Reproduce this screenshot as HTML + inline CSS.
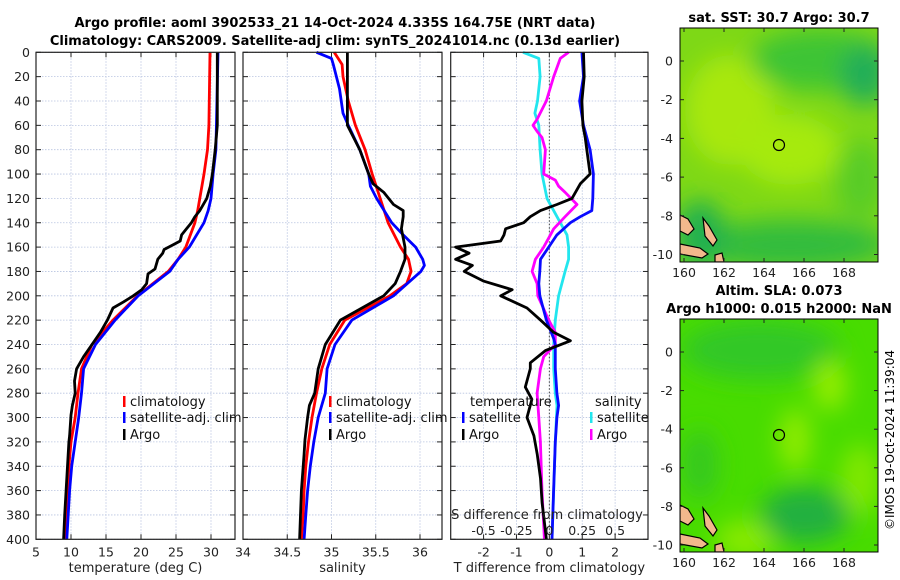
<!DOCTYPE html>
<html><head><meta charset="utf-8">
<style>
html,body{margin:0;padding:0;background:#fff;}
svg{display:block;font-family:"DejaVu Sans","Liberation Sans",sans-serif;}
</style></head>
<body>
<svg id="fig" width="900" height="580" viewBox="0 0 900 580" xmlns="http://www.w3.org/2000/svg">
<defs>
<filter id="blur" x="-50%" y="-50%" width="200%" height="200%"><feGaussianBlur stdDeviation="12"/></filter>
<clipPath id="clipTop"><rect x="680" y="28" width="198" height="234"/></clipPath>
<clipPath id="clipBot"><rect x="680" y="319" width="198" height="233"/></clipPath>
</defs>
<text x="335" y="27" text-anchor="middle" font-size="13" font-weight="bold">Argo profile: aoml 3902533_21 14-Oct-2024 4.335S 164.75E (NRT data)</text>
<text x="335" y="45" text-anchor="middle" font-size="13" font-weight="bold">Climatology: CARS2009. Satellite-adj clim: synTS_20241014.nc (0.13d earlier)</text>
<g id="plots"></g>
<g id="maps">
 <text x="779" y="22" text-anchor="middle" font-size="13" font-weight="bold">sat. SST: 30.7 Argo: 30.7</text>
 <g clip-path="url(#clipTop)">
  <rect x="680" y="28" width="198" height="234" fill="#7ed816"/>
  <g filter="url(#blur)">
   <ellipse cx="730" cy="110" rx="45" ry="55" fill="#a8e80a"/>
   <ellipse cx="790" cy="150" rx="50" ry="35" fill="#a6ea08"/>
   <ellipse cx="820" cy="60" rx="70" ry="30" fill="#3cc434"/>
   <ellipse cx="865" cy="75" rx="25" ry="30" fill="#20ae58"/>
   <ellipse cx="790" cy="245" rx="100" ry="25" fill="#30bc3c"/>
   <ellipse cx="700" cy="235" rx="25" ry="35" fill="#24b050"/>
   <ellipse cx="860" cy="180" rx="25" ry="40" fill="#58cc26"/>
  </g>
  <path d="M680 215 l8 4 l6 10 l-6 6 l-8 -4z M703 218 l6 8 l8 14 l-4 6 l-8 -10z M680 244 l20 4 l8 6 l-6 4 l-22 -4z M715 255 l7 -2 l2 9 l-9 0z" fill="#f2b88c" stroke="#000" stroke-width="1.2"/>
 </g>
 <rect x="680" y="28" width="198" height="234" fill="none" stroke="#000" stroke-width="1"/>
 <circle cx="779" cy="145" r="5.5" fill="none" stroke="#000" stroke-width="1.2"/>
 <text x="779" y="295" text-anchor="middle" font-size="13" font-weight="bold">Altim. SLA: 0.073</text>
 <text x="779" y="313" text-anchor="middle" font-size="13" font-weight="bold">Argo h1000: 0.015 h2000: NaN</text>
 <g clip-path="url(#clipBot)">
  <rect x="680" y="319" width="198" height="233" fill="#48dc00"/>
  <g filter="url(#blur)">
   <ellipse cx="760" cy="350" rx="80" ry="30" fill="#30c828"/>
   <ellipse cx="830" cy="385" rx="16" ry="26" fill="#98ee00"/>
   <ellipse cx="795" cy="440" rx="16" ry="32" fill="#90ec00"/>
   <ellipse cx="860" cy="480" rx="20" ry="36" fill="#80e800"/>
   <ellipse cx="745" cy="540" rx="30" ry="20" fill="#88ea00"/>
   <ellipse cx="805" cy="515" rx="45" ry="28" fill="#20b040"/>
   <ellipse cx="700" cy="465" rx="18" ry="35" fill="#34c820"/>
  </g>
  <path d="M680 505 l8 4 l6 10 l-6 6 l-8 -4z M703 508 l6 8 l8 14 l-4 6 l-8 -10z M680 534 l20 4 l8 6 l-6 4 l-22 -4z M715 545 l7 -2 l2 9 l-9 0z" fill="#f2b88c" stroke="#000" stroke-width="1.2"/>
 </g>
 <rect x="680" y="319" width="198" height="233" fill="none" stroke="#000" stroke-width="1"/>
 <circle cx="779" cy="435" r="5.5" fill="none" stroke="#000" stroke-width="1.2"/>
 <text transform="translate(894,440) rotate(-90)" text-anchor="middle" font-size="12">©IMOS 19-Oct-2024 11:39:04</text>
</g>
<g id="mapaxes"></g>
</svg>
<script>
// ---- data ----
const depthClim = [0,60,80,100,120,130,140,160,170,180,200,220,240,260,280,300,320,340,360,380,400];
const tempClim  = [29.86,29.7,29.5,29.0,28.4,28.1,27.7,26.4,25.3,23.9,19.5,16.0,13.0,11.5,11.0,10.6,10.0,9.7,9.5,9.3,9.2];
const depthSat  = [0,80,100,120,130,140,160,170,180,200,220,240,260,280,300,320,340,360,380,400];
const tempSat   = [31.0,30.7,30.3,30.0,29.6,29.0,26.9,25.3,24.1,19.6,16.3,13.5,11.8,11.5,11.1,10.6,10.1,9.8,9.6,9.4];
const depthArgoT= [0,60,80,100,110,120,130,135,140,145,150,155,158,162,165,170,178,182,190,195,200,205,210,220,230,240,250,260,270,280,290,298,315,320,340,360,380,400];
const tempArgo  = [30.9,30.9,30.6,30.2,29.9,29.4,28.4,27.7,27.2,26.5,25.8,25.6,24.6,23.3,23.1,22.4,22.0,21.0,20.8,20.1,18.9,17.5,16.0,15.2,14.2,13.0,11.8,10.8,10.5,10.6,10.2,10.0,9.8,9.7,9.5,9.3,9.1,8.95];

const depthSClim= [0,10,20,40,60,80,100,120,140,160,170,180,190,200,220,240,260,280,300,320,340,360,380,400];
const salClim   = [35.03,35.12,35.13,35.19,35.27,35.38,35.46,35.55,35.64,35.78,35.87,35.90,35.85,35.66,35.15,34.98,34.89,34.83,34.78,34.74,34.71,34.69,34.68,34.66];
const depthSSat = [0,5,10,30,50,60,80,100,110,120,140,150,160,170,175,180,200,220,240,260,280,300,320,340,360,380,400];
const salSat    = [34.83,35.0,35.02,35.09,35.13,35.19,35.32,35.42,35.44,35.51,35.68,35.81,35.95,36.03,36.05,36.01,35.70,35.23,35.04,34.95,34.93,34.85,34.80,34.76,34.73,34.71,34.69];
const depthSArgo= [0,60,70,80,100,108,115,125,130,135,145,160,170,180,190,200,220,240,260,280,290,300,318,330,360,400];
const salArgo   = [35.18,35.18,35.25,35.32,35.42,35.47,35.59,35.70,35.81,35.81,35.79,35.83,35.83,35.78,35.72,35.59,35.10,34.93,34.85,34.81,34.75,34.73,34.70,34.69,34.66,34.64];

const depthDTS  = [0,20,40,60,80,100,120,130,135,140,150,160,170,180,190,200,220,235,240,260,280,290,300,320,360,400];
const dTsat     = [0.99,1.04,0.92,1.04,1.24,1.34,1.32,1.29,0.94,0.64,0.23,-0.02,-0.27,-0.29,-0.32,-0.29,-0.09,0.13,0.18,0.18,0.23,0.28,0.23,0.18,0.13,0.08];
const depthDTA  = [0,20,40,60,70,80,100,108,120,125,130,135,140,145,150,155,160,165,170,175,180,188,195,200,210,220,230,237,245,255,260,275,285,300,315,330,350,370,400];
const dTargo    = [1.04,1.06,0.99,1.02,1.09,1.14,1.24,0.94,0.69,0.23,-0.27,-0.58,-0.78,-1.33,-1.38,-1.48,-2.85,-2.44,-2.85,-2.34,-2.59,-1.99,-1.13,-1.48,-0.68,-0.27,0.13,0.64,-0.12,-0.58,-0.58,-0.73,-0.53,-0.68,-0.47,-0.37,-0.27,-0.22,-0.09];
const depthDSS  = [0,5,20,40,50,60,80,100,120,140,150,160,170,180,200,220,240,260,280,290,320,360,400];
const dSsat     = [-0.20,-0.08,-0.07,-0.09,-0.11,-0.08,-0.07,-0.056,-0.018,0.083,0.134,0.146,0.146,0.12,0.07,0.045,0.033,0.033,0.045,0.058,0.045,0.033,0.02];
const depthDSA  = [0,5,20,40,55,60,65,70,80,100,105,110,115,125,135,145,150,160,170,180,190,200,220,230,240,250,260,280,300,320,360,400];
const dSargo    = [0.146,0.083,0.033,-0.023,-0.093,-0.124,-0.093,-0.056,-0.03,-0.043,0.045,0.07,0.12,0.21,0.12,0.033,0.008,-0.043,-0.106,-0.131,-0.093,-0.088,-0.005,0.045,0.045,-0.043,-0.068,-0.093,-0.08,-0.068,-0.056,-0.038];

const depthTicks = [0,20,40,60,80,100,120,140,160,180,200,220,240,260,280,300,320,340,360,380,400];
const tTicks = [5,10,15,20,25,30];
const sTicks = [34,34.5,35,35.5,36];
const dTTicks = [-2,-1,0,1,2];
const dSTicks = [-0.5,-0.25,0,0.25,0.5];
const dSTickLabels = ["-0.5","-0.25","0","0.25","0.5"];

// ---- drawing ----
const NS="http://www.w3.org/2000/svg";
const g=document.getElementById('plots');
function mk(tag,attrs,parent){const e=document.createElementNS(NS,tag);for(const k in attrs)e.setAttribute(k,attrs[k]);(parent||g).appendChild(e);return e;}
const Y0=52.3,Y1=539.3;
function yScale(d){return Y0+(d/400)*(Y1-Y0);}
function lin(d0,d1,r0,r1){return v=>r0+(v-d0)/(d1-d0)*(r1-r0);}
const panels=[
 {name:'temperature',x0:36,x1:235,sx:lin(5,30,36,211),ticks:tTicks,labels:tTicks.map(String),xlabel:'temperature (deg C)'},
 {name:'salinity',x0:243,x1:442,sx:lin(34,36,243,420),ticks:sTicks,labels:sTicks.map(String),xlabel:'salinity'},
 {name:'difference',x0:450.7,x1:648,sx:lin(-3,3,450.7,648),ticks:dTTicks,labels:dTTicks.map(String),xlabel:'T difference from climatology'}
];
panels.forEach((p,pi)=>{
 const pg=mk('g',{});
 
 
 depthTicks.forEach(d=>{
  const y=yScale(d);
  const gl=mk('line',{x1:p.x0,x2:p.x1,y1:y,y2:y,stroke:'#b8c4e0','stroke-width':0.8,'stroke-dasharray':'1.5,1.5'},pg);
  
  
  mk('line',{x1:p.x0,x2:p.x0+5,y1:y,y2:y,stroke:'#222'},pg);
  mk('line',{x1:p.x1-5,x2:p.x1,y1:y,y2:y,stroke:'#222'},pg);
  if(pi===0){const t=mk('text',{x:30,y:y+4.5,'text-anchor':'end','font-size':12.5,fill:'#222'},pg);t.textContent=d;
   
   }
 });
 p.ticks.forEach((v,i)=>{
  const x=p.sx(v);
  const gl=mk('line',{x1:x,x2:x,y1:Y0,y2:Y1,stroke:'#b8c4e0','stroke-width':0.8,'stroke-dasharray':'1.5,1.5'},pg);
  
  
  mk('line',{x1:x,x2:x,y1:Y1-5,y2:Y1,stroke:'#222'},pg);
  mk('line',{x1:x,x2:x,y1:Y0,y2:Y0+5,stroke:'#222'},pg);
  const t=mk('text',{x:x,y:Y1+17,'text-anchor':'middle','font-size':12.5,fill:'#222'},pg);t.textContent=p.labels[i];
  
  
 });
 const xl=mk('text',{x:(p.x0+p.x1)/2,y:572,'text-anchor':'middle','font-size':13,fill:'#222'},pg);xl.textContent=p.xlabel;
 
 
 p.g=pg;
});
const zx=panels[2].sx(0);
mk('line',{x1:zx,x2:zx,y1:Y0,y2:Y1,stroke:'#444','stroke-width':1,'stroke-dasharray':'1.5,2'},panels[2].g);
function series(xs,ds,sx,color,name,parent){
 const pts=xs.map((v,i)=>sx(v).toFixed(1)+','+yScale(ds[i]).toFixed(1)).join(' ');
 const e=mk('polyline',{points:pts,fill:'none',stroke:color,'stroke-width':2.8,'stroke-linejoin':'round'},parent);
 
 
}
const P=panels;
series(tempClim,depthClim,P[0].sx,'#ff0000','temp-climatology-line',P[0].g);
series(tempSat,depthSat,P[0].sx,'#0000ff','temp-satellite-line',P[0].g);
series(tempArgo,depthArgoT,P[0].sx,'#000000','temp-argo-line',P[0].g);
series(salClim,depthSClim,P[1].sx,'#ff0000','sal-climatology-line',P[1].g);
series(salSat,depthSSat,P[1].sx,'#0000ff','sal-satellite-line',P[1].g);
series(salArgo,depthSArgo,P[1].sx,'#000000','sal-argo-line',P[1].g);
const sxS=lin(-0.75,0.75,450.7,648);
series(dSsat,depthDSS,sxS,'#22e6ee','sdiff-satellite-line',P[2].g);
series(dSargo,depthDSA,sxS,'#ff00ff','sdiff-argo-line',P[2].g);
series(dTsat,depthDTS,P[2].sx,'#0a0aff','tdiff-satellite-line',P[2].g);
series(dTargo,depthDTA,P[2].sx,'#000000','tdiff-argo-line',P[2].g);
dSTicks.forEach((v,i)=>{const t=mk('text',{x:sxS(v),y:535,'text-anchor':'middle','font-size':12.5,fill:'#222'},P[2].g);t.textContent=dSTickLabels[i];
 
 });
const st=mk('text',{x:547,y:519,'text-anchor':'middle','font-size':13,fill:'#222'},P[2].g);st.textContent='S difference from climatology';


function legend(x,y,color,label,parent){
 const lg=mk('g',{},parent);
 
 
 mk('rect',{x:x,y:y-10,width:2.5,height:11,fill:color},lg);
 const t=mk('text',{x:x+7,y:y,'font-size':13,fill:'#111'},lg);t.textContent=label;
}
[[0,123],[1,329]].forEach(([pi,x])=>{
 legend(x,406,'#ff0000','climatology',P[pi].g);
 legend(x,422,'#0000ff','satellite-adj. clim',P[pi].g);
 legend(x,439,'#000000','Argo',P[pi].g);
});
const lt=mk('text',{x:470,y:406,'font-size':13,fill:'#111'},P[2].g);lt.textContent='temperature';


legend(462,422,'#0000ff','satellite',P[2].g);
legend(462,439,'#000000','Argo',P[2].g);
const ls=mk('text',{x:595,y:406,'font-size':13,fill:'#111'},P[2].g);ls.textContent='salinity';


legend(590,422,'#22e6ee','satellite',P[2].g);
legend(590,439,'#ff00ff','Argo',P[2].g);
panels.forEach(p=>{mk('rect',{x:p.x0,y:Y0,width:p.x1-p.x0,height:Y1-Y0,fill:'none',stroke:'#222','stroke-width':1.2},p.g);});

// map axes
const ma=document.getElementById('mapaxes');
const lonTicks=[160,162,164,166,168];
const latTicks=[0,-2,-4,-6,-8,-10];
[[28,262,61,254.5],[319,552,352,545]].forEach(([top,bot,y0,y10])=>{
 lonTicks.forEach(l=>{const x=684+(l-160)*20;
  mk('line',{x1:x,x2:x,y1:bot-4,y2:bot,stroke:'#222'},ma);
  mk('line',{x1:x,x2:x,y1:top,y2:top+4,stroke:'#222'},ma);
  const t=mk('text',{x:x,y:bot+15,'text-anchor':'middle','font-size':12.5,fill:'#222'},ma);t.textContent=l;
  
  });
 latTicks.forEach(l=>{const y=y0+(l/-10)*(y10-y0);
  mk('line',{x1:680,x2:684,y1:y,y2:y,stroke:'#222'},ma);
  mk('line',{x1:874,x2:878,y1:y,y2:y,stroke:'#222'},ma);
  const t=mk('text',{x:673,y:y+4.5,'text-anchor':'end','font-size':12.5,fill:'#222'},ma);t.textContent=l;
  
  });
});
</script>
</body></html>
